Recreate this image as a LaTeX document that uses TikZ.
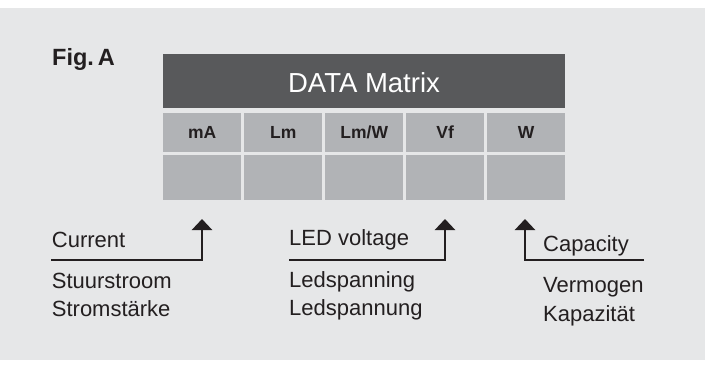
\documentclass[tikz,border=0pt]{standalone}
\usepackage{fontspec}
\setmainfont{Liberation Sans}
\usetikzlibrary{arrows.meta}
\definecolor{bg}{HTML}{E6E7E8}
\definecolor{hdr}{HTML}{58595B}
\definecolor{cellc}{HTML}{B1B3B6}
\definecolor{ink}{HTML}{231F20}
\begin{document}
\begin{tikzpicture}[x=1pt,y=-1pt,
  hdrbox/.style={fill=hdr, draw=none, anchor=north west, minimum width=402pt, minimum height=54pt, inner sep=0pt},
  titletxt/.style={text=white, anchor=base, inner sep=0pt, font=\fontsize{27.5}{30}\selectfont},
  cellhead/.style={fill=cellc, draw=none, anchor=north west, minimum width=78pt, minimum height=39pt, inner sep=0pt,
     text=ink, text height=12.6pt, text depth=0pt, font=\bfseries\fontsize{17.5}{20}\selectfont},
  cellbody/.style={fill=cellc, draw=none, anchor=north west, minimum width=78pt, minimum height=44.3pt, inner sep=0pt},
  lbl/.style={text=ink, anchor=base west, inner sep=0pt, font=\fontsize{22}{26}\selectfont},
  figlbl/.style={text=ink, anchor=base west, inner sep=0pt, font=\bfseries\fontsize{23.5}{28}\selectfont},
  conn/.style={draw=ink, line width=2.5pt, line cap=butt, line join=miter, -{Triangle[width=20pt,length=11pt]}}
]
\useasboundingbox (0,0) rectangle (709,368);
\fill[bg] (0,8) rectangle (705,360);

\node[figlbl] (fig) at (52,65) {Fig.\,A};

\node[hdrbox] (hdr) at (163,54) {};
\node[titletxt] (title) at (364,92) {DATA Matrix};

\node[cellhead] (h1) at (163,112.7) {mA};
\node[cellhead] (h2) at (244,112.7) {Lm};
\node[cellhead] (h3) at (325,112.7) {Lm/W};
\node[cellhead] (h4) at (406,112.7) {Vf};
\node[cellhead] (h5) at (487,112.7) {W};

\node[cellbody] (b1) at (163,155) {};
\node[cellbody] (b2) at (244,155) {};
\node[cellbody] (b3) at (325,155) {};
\node[cellbody] (b4) at (406,155) {};
\node[cellbody] (b5) at (487,155) {};

% Current
\coordinate (curS) at (51,260);
\coordinate (curC) at (202,260);
\coordinate (curT) at (202,219);
\draw[conn] (curS) -- (curC) -- (curT);
\node[lbl] (cur) at (51.7,247) {Current};
\node[lbl] (cur1) at (51.7,288.5) {Stuurstroom};
\node[lbl] (cur2) at (51.7,316.5) {Stromstärke};

% LED voltage
\coordinate (ledS) at (289,260);
\coordinate (ledC) at (445,260);
\coordinate (ledT) at (445,219);
\draw[conn] (ledS) -- (ledC) -- (ledT);
\node[lbl] (led) at (289,245.5) {LED voltage};
\node[lbl] (led1) at (289,287) {Ledspanning};
\node[lbl] (led2) at (289,315) {Ledspannung};

% Capacity
\coordinate (capS) at (644,260);
\coordinate (capC) at (525,260);
\coordinate (capT) at (525,219);
\draw[conn] (capS) -- (capC) -- (capT);
\node[lbl] (cap) at (543,251) {Capacity};
\node[lbl] (cap1) at (543,292) {Vermogen};
\node[lbl] (cap2) at (543,321) {Kapazität};
\end{tikzpicture}
\end{document}
